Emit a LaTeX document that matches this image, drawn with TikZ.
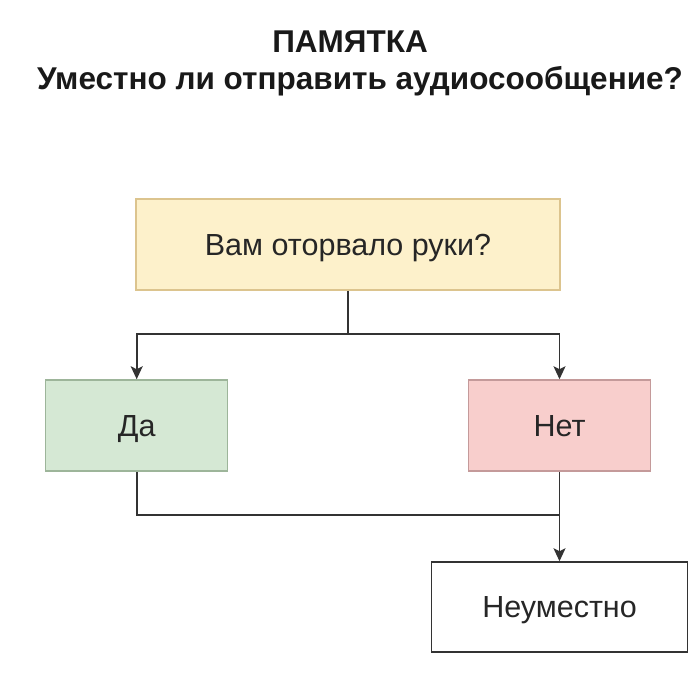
\documentclass[tikz,border=0pt]{standalone}
\usepackage{fontspec}
\setmainfont{Liberation Sans}
\usetikzlibrary{arrows.meta}

\definecolor{lineclr}{HTML}{333333}
\definecolor{askfill}{HTML}{FDF1CB}
\definecolor{askline}{HTML}{DCC48E}
\definecolor{yesfill}{HTML}{D5E8D4}
\definecolor{yesline}{HTML}{9DB59A}
\definecolor{nofill}{HTML}{F8CECC}
\definecolor{noline}{HTML}{C49A9A}

\begin{document}
\begin{tikzpicture}[x=1pt, y=-1pt,
    box/.style={rectangle, draw, line width=1.5pt, minimum height=91pt,
        inner sep=0pt, text height=21.8pt, text depth=0pt,
        font=\fontsize{30.5}{35}\selectfont, text=black!85},
    title/.style={font=\bfseries\fontsize{31.5}{36}\selectfont, text=black!90,
        inner sep=0pt, text height=22.6pt, text depth=0pt},
    link/.style={draw=lineclr, line width=1.6pt},
    arr/.style={link, -{Stealth[length=13pt, width=12pt, inset=3pt]}}]
        \useasboundingbox (0, 0) rectangle (700, 688);
        % heading
        \node[title] (head) at (350, 41) {ПАМЯТКА};
        \node[title] (sub) at (360, 78.5) {Уместно ли отправить аудиосообщение?};
        % boxes
        \node[box, fill=askfill, draw=askline, minimum width=424pt] (ask) at (348, 244.5) {Вам оторвало руки?};
        \node[box, fill=yesfill, draw=yesline, minimum width=182pt] (yes) at (136.7, 425.5) {Да};
        \node[box, fill=nofill, draw=noline, minimum width=182pt] (no) at (559.5, 425.5) {Нет};
        \node[box, fill=white, draw=lineclr, minimum width=256pt, minimum height=90pt] (bad) at (559.5, 607) {Неуместно};
        \coordinate (split) at (348, 334);
        \coordinate (join) at (559.5, 515);
        \draw[arr] (ask.south) -- (split) -| (yes.north);
        \draw[arr] (split) -| (no.north);
        \draw[link] (yes.south) |- (join);
        \draw[arr] (no.south) -- (join) -- (bad.north);
    \end{tikzpicture}
\end{document}
